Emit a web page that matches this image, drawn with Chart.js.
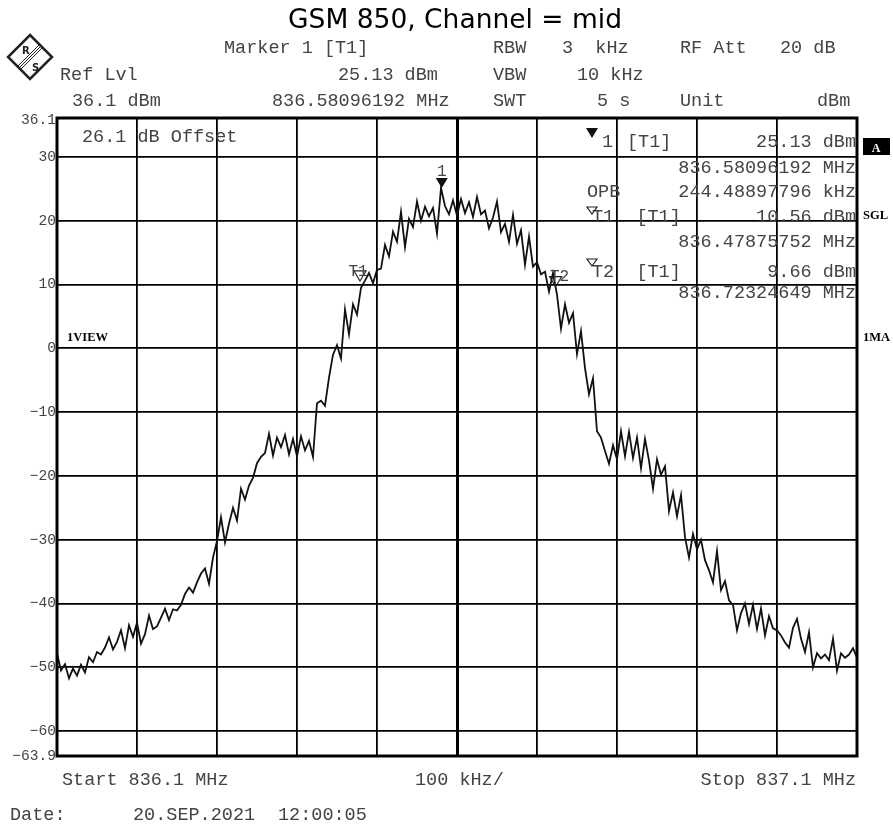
<!DOCTYPE html>
<html>
<head>
<meta charset="utf-8">
<script src="https://cdn.jsdelivr.net/npm/chart.js@4.4.0/dist/chart.umd.min.js"></script>
<style>
  html, body { margin: 0; padding: 0; background: #fff; }
  canvas { display: block; }
</style>
</head>
<body>
<canvas id="spectrum" width="893" height="825"></canvas>
<script>
// spectrum plot: GSM 850 occupied bandwidth, mid channel
const startMHz = 836.1
const spanKHz = 1000
const traceStepKHz = 5

// trace level in dBm, one value per 5 kHz from 836.1 MHz
const traceLevel = [
  -47.8, -50.5, -49.5, -51.7, -50.2, -51.3, -49.6, -50.8, -48.4, -49.2,
  -47.6, -48.0, -46.9, -45.3, -47.2, -46.0, -44.2, -47.0, -43.4, -45.2,
  -43.0, -46.3, -44.8, -41.9, -44.0, -43.6, -42.2, -40.8, -42.6, -40.9,
  -41.1, -40.2, -38.5, -37.5, -38.3, -36.7, -35.3, -34.5, -36.9, -32.8,
  -30.2, -26.5, -30.4, -27.5, -25.0, -27.0, -22.0, -23.7, -21.5, -20.3,
  -18.0, -17.0, -16.4, -13.4, -16.8, -14.0, -15.5, -13.6, -16.6, -14.2,
  -16.9, -13.8, -16.0, -14.5, -17.0, -8.6, -8.2, -9.0, -4.6, -1.0,
  0.5, -1.6, 6.1, 2.2, 6.9, 5.3, 9.5, 10.6, 11.8, 10.2,
  12.3, 12.5, 16.2, 14.4, 18.3, 16.7, 21.4, 15.9, 20.3, 19.0,
  23.0, 20.0, 22.2, 20.7, 22.0, 18.0, 25.13, 22.3, 21.0, 23.2,
  20.8, 23.4, 21.2, 22.9, 20.6, 23.7, 21.0, 21.6, 18.8, 20.5,
  23.0, 18.2, 19.5, 16.7, 20.9, 16.4, 18.5, 13.1, 17.5, 12.8,
  13.5, 11.6, 12.0, 8.9, 11.8, 8.4, 3.1, 6.9, 4.0, 5.5,
  -0.9, 2.7, -3.1, -7.2, -4.7, -13.0, -14.0, -16.1, -18.1, -15.2,
  -17.4, -13.0, -16.9, -13.1, -17.2, -14.0, -18.8, -14.2, -17.6, -22.0,
  -17.4, -19.8, -18.5, -25.5, -22.6, -26.3, -23.0, -29.6, -32.8, -29.1,
  -31.5, -30.0, -33.2, -34.8, -36.7, -31.8, -37.9, -36.5, -39.5, -40.2,
  -44.2, -41.5, -40.0, -43.2, -40.2, -44.0, -40.8, -45.0, -42.0, -43.9,
  -44.2, -45.0, -46.1, -46.9, -43.8, -42.4, -45.5, -47.6, -44.5, -50.0,
  -47.8, -48.6, -48.0, -48.9, -45.5, -50.5, -47.8, -48.5, -48.0, -47.0,
  -48.5
]

// y axis
const refLevel = 36.1
const bottomLevel = -63.9
const yGridLines = [30, 20, 10, 0, -10, -20, -30, -40, -50, -60]
const yTickValues = [36.1, 30, 20, 10, 0, -10, -20, -30, -40, -50, -60, -63.9]

// markers (1 = peak, T1/T2 = OBW edges)
const markerNames = ['1', 'T1', 'T2']
const markerFreqMHz = [836.58096192, 836.47875752, 836.72324649]
const markerLevel = [25.13, 10.56, 9.66]
const markerFilled = [true, false, false]

const tracePoints = traceLevel.map((v, i) => ({ x: i * traceStepKHz, y: v }))

const MONO = '"Liberation Mono", "DejaVu Sans Mono", monospace'
const TXT = '#444'

function fmtTick (v) {
  return String(v).replace('-', '\u2212')
}

function drawTri (ctx, x, y, filled) {
  // tip sits on the point, triangle above it
  ctx.beginPath()
  ctx.moveTo(x, y)
  ctx.lineTo(x - 6, y - 10)
  ctx.lineTo(x + 6, y - 10)
  ctx.closePath()
  if (filled) { ctx.fillStyle = '#111'; ctx.fill() } else { ctx.strokeStyle = '#222'; ctx.lineWidth = 1.2; ctx.stroke() }
}

const decorPlugin = {
  id: 'decor',
  afterDraw (chart) {
    const { ctx, chartArea: { left, top, right, bottom } } = chart
    const xs = chart.scales.x
    const ys = chart.scales.y
    ctx.save()

    // frame
    ctx.strokeStyle = '#000'
    ctx.lineWidth = 3
    ctx.strokeRect(left, top, right - left, bottom - top)

    // title
    ctx.fillStyle = '#000'
    ctx.font = '26.5px "DejaVu Sans", sans-serif'
    ctx.textAlign = 'center'
    ctx.textBaseline = 'alphabetic'
    ctx.fillText('GSM 850, Channel = mid', 455, 28)

    // header block
    ctx.font = '18.5px ' + MONO
    ctx.fillStyle = TXT
    ctx.textAlign = 'left'
    const header = [
      ['Marker 1 [T1]', 224, 53], ['RBW', 493, 53], ['3  kHz', 562, 53], ['RF Att', 680, 53], ['20 dB', 780, 53],
      ['Ref Lvl', 60, 80], ['25.13 dBm', 338, 80], ['VBW', 493, 80], ['10 kHz', 577, 80],
      ['36.1 dBm', 72, 106], ['836.58096192 MHz', 272, 106], ['SWT', 493, 106], ['5 s', 597, 106], ['Unit', 680, 106], ['dBm', 817, 106]
    ]
    header.forEach(([t, x, y]) => ctx.fillText(t, x, y))

    // y tick labels
    ctx.font = '14.6px ' + MONO
    ctx.textAlign = 'right'
    ctx.textBaseline = 'middle'
    yTickValues.forEach(v => {
      let y = ys.getPixelForValue(v)
      if (v === refLevel) y += 2
      ctx.fillText(fmtTick(v), 56, y)
    })

    // bottom captions
    ctx.font = '18.5px ' + MONO
    ctx.textBaseline = 'alphabetic'
    ctx.textAlign = 'left'
    ctx.fillText('Start ' + startMHz + ' MHz', 62, 785)
    ctx.fillText((spanKHz / 10) + ' kHz/', 415, 785)
    ctx.textAlign = 'right'
    ctx.fillText('Stop ' + (startMHz + spanKHz / 1000).toFixed(1) + ' MHz', 856, 785)
    ctx.textAlign = 'left'
    ctx.fillText('Date:', 10, 820)
    ctx.fillText('20.SEP.2021', 133, 820)
    ctx.fillText('12:00:05', 278, 820)

    // in-plot notes
    ctx.fillText('26.1 dB Offset', 82, 142)

    // marker table
    ctx.textAlign = 'left'
    ctx.fillText('1', 602, 147)
    ctx.fillText('[T1]', 627, 147)
    ctx.fillText('OPB', 587, 197)
    ctx.fillText('T1  [T1]', 592, 222)
    ctx.fillText('T2  [T1]', 592, 277)
    ctx.textAlign = 'right'
    ctx.fillText(markerLevel[0].toFixed(2) + ' dBm', 856, 147)
    ctx.fillText(markerFreqMHz[0].toFixed(8) + ' MHz', 856, 173)
    ctx.fillText('244.48897796 kHz', 856, 197)
    ctx.fillText(markerLevel[1].toFixed(2) + ' dBm', 856, 222)
    ctx.fillText(markerFreqMHz[1].toFixed(8) + ' MHz', 856, 247)
    ctx.fillText(markerLevel[2].toFixed(2) + ' dBm', 856, 277)
    ctx.fillText(markerFreqMHz[2].toFixed(8) + ' MHz', 856, 298)
    // table symbols
    drawTri(ctx, 592, 138, true)
    ctx.beginPath(); ctx.moveTo(587, 207); ctx.lineTo(597, 207); ctx.lineTo(592, 214); ctx.closePath()
    ctx.strokeStyle = '#222'; ctx.lineWidth = 1.2; ctx.stroke()
    ctx.beginPath(); ctx.moveTo(587, 259); ctx.lineTo(597, 259); ctx.lineTo(592, 266); ctx.closePath(); ctx.stroke()

    // markers on the trace
    ctx.font = '16px ' + MONO
    ctx.textAlign = 'center'
    markerNames.forEach((name, i) => {
      const px = xs.getPixelForValue((markerFreqMHz[i] - startMHz) * 1000)
      const py = ys.getPixelForValue(markerLevel[i])
      drawTri(ctx, px, py, markerFilled[i])
      ctx.fillStyle = '#444'
      if (name === '1') ctx.fillText(name, px, py - 12)
      else if (name === 'T1') ctx.fillText(name, px - 2, py - 5)
      else ctx.fillText(name, px + 4, py - 6)
    })

    // side labels
    ctx.fillStyle = '#000'
    ctx.fillRect(863, 138, 27, 17)
    ctx.font = 'bold 12px "Liberation Serif", serif'
    ctx.fillStyle = '#fff'
    ctx.textAlign = 'center'
    ctx.fillText('A', 876, 152)
    ctx.fillStyle = '#000'
    ctx.textAlign = 'left'
    ctx.font = 'bold 12.5px "Liberation Serif", serif'
    ctx.fillText('SGL', 863, 219)
    ctx.fillText('1MA', 863, 341)
    ctx.fillText('1VIEW', 67, 341)

    // R&S logo
    ctx.strokeStyle = '#222'
    ctx.lineWidth = 2.5
    ctx.beginPath()
    ctx.moveTo(30, 35); ctx.lineTo(52, 57); ctx.lineTo(30, 79); ctx.lineTo(8, 57); ctx.closePath()
    ctx.stroke()
    ctx.lineWidth = 1
    ;[-3, 0, 3].forEach(d => {
      ctx.beginPath()
      ctx.moveTo(19 + d / 2, 68 + d / 2)
      ctx.lineTo(41 + d / 2, 46 + d / 2)
      ctx.stroke()
    })
    ctx.fillStyle = '#222'
    ctx.font = 'bold 10px "DejaVu Sans", sans-serif'
    ctx.fillText('R', 22, 54)
    ctx.fillText('S', 32, 71)

    ctx.restore()
  }
}

new Chart(document.getElementById('spectrum'), {
  type: 'line',
  data: {
    datasets: [{
      data: tracePoints,
      borderColor: '#111',
      borderWidth: 1.8,
      pointRadius: 0,
      tension: 0,
      fill: false
    }]
  },
  options: {
    responsive: false,
    animation: false,
    events: [],
    layout: { padding: { left: 57, right: 36, top: 118, bottom: 69 } },
    plugins: { legend: { display: false }, tooltip: { enabled: false } },
    scales: {
      x: {
        type: 'linear',
        min: 0,
        max: spanKHz,
        ticks: { display: false, stepSize: 100 },
        border: { display: false },
        grid: {
          color: '#000',
          lineWidth: c => (c.tick && c.tick.value === spanKHz / 2 ? 3 : 1.8),
          drawTicks: false
        },
        afterFit: s => { s.height = 0 }
      },
      y: {
        type: 'linear',
        min: bottomLevel,
        max: refLevel,
        ticks: { display: false },
        afterBuildTicks: s => { s.ticks = yGridLines.map(v => ({ value: v })) },
        border: { display: false },
        grid: { color: '#000', lineWidth: 1.8, drawTicks: false },
        afterFit: s => { s.width = 0 }
      }
    }
  },
  plugins: [decorPlugin]
})
</script>
</body>
</html>
